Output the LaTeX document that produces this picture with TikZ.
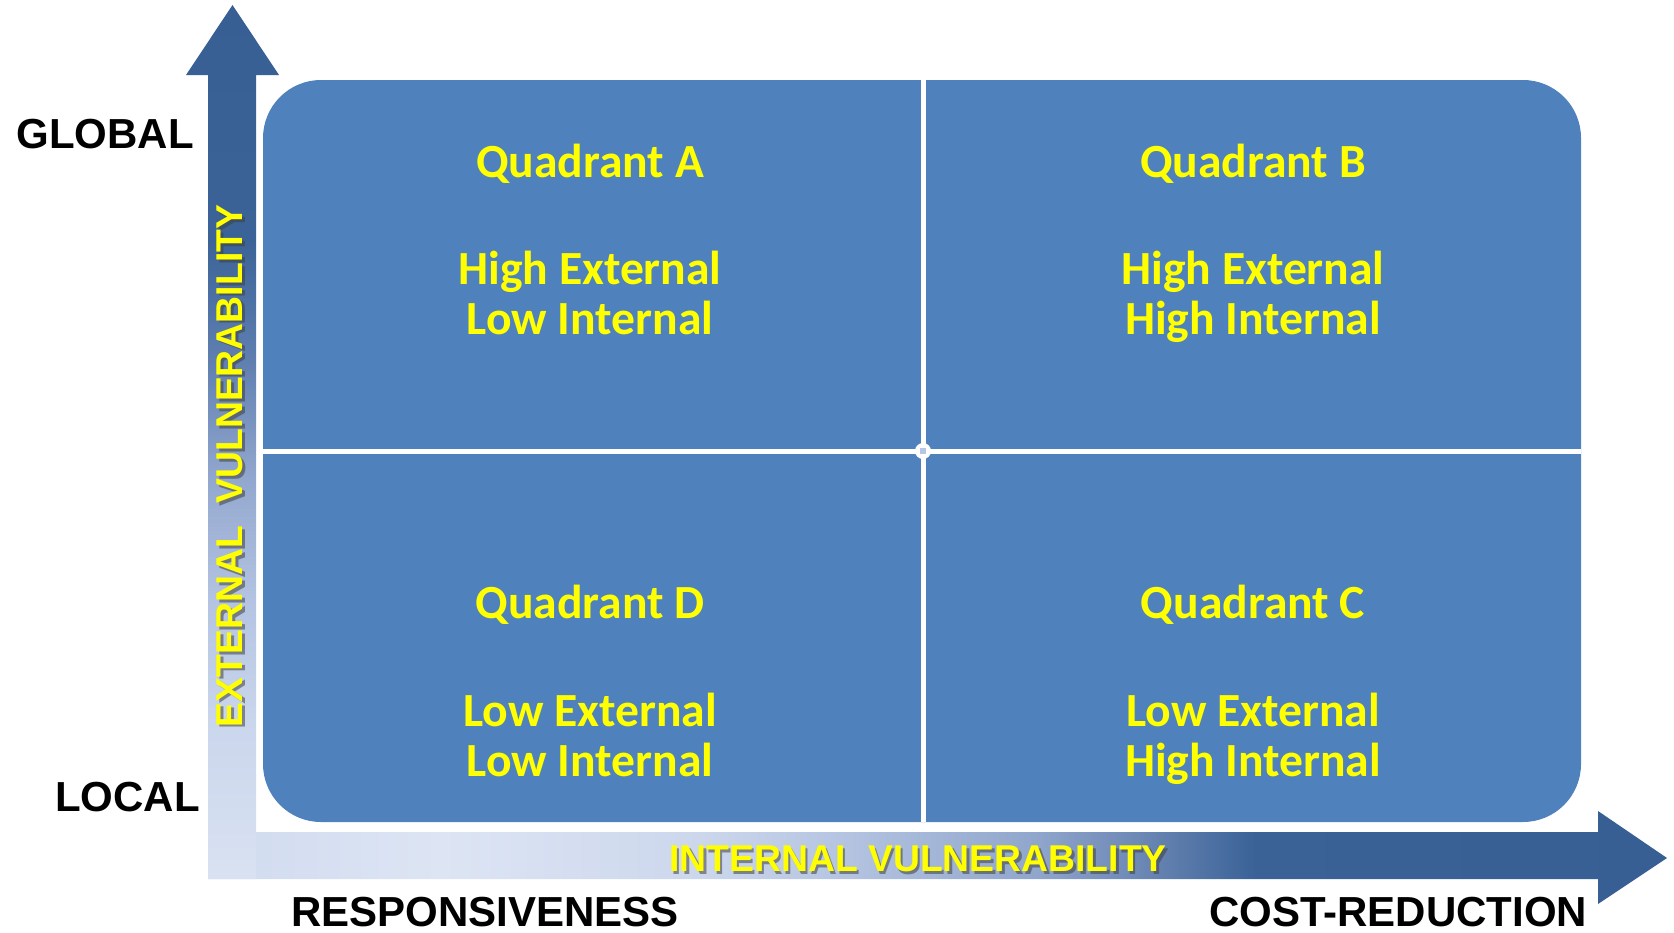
\documentclass[tikz,border=0pt]{standalone}
\usepackage{fontspec}
\usepackage{tikz}
\setmainfont{Liberation Sans}
\newfontfamily\quadfont{Carlito}

\definecolor{quadblue}{HTML}{4F81BD}
\definecolor{arrowdark}{HTML}{375F93}
\definecolor{labelyellow}{HTML}{FFFF00}
\definecolor{hubgray}{HTML}{B4C6E3}
% colours of the vertical arrow, bottom to top
\definecolor{ev1}{HTML}{D9E2F2}
\definecolor{ev2}{HTML}{CAD6EC}
\definecolor{ev3}{HTML}{B3C3E1}
\definecolor{ev4}{HTML}{93A8CF}
\definecolor{ev5}{HTML}{5F7FB0}
\definecolor{ev6}{HTML}{3B6397}
% colours of the horizontal arrow, left to right
\definecolor{iv1}{HTML}{CFDAEE}
\definecolor{iv2}{HTML}{D3DDF0}
\definecolor{iv3}{HTML}{DDE5F4}
\definecolor{iv4}{HTML}{CCD7EC}
\definecolor{iv5}{HTML}{B3C3E0}
\definecolor{iv6}{HTML}{8FA5CB}
\definecolor{iv7}{HTML}{6C88B5}
\definecolor{iv8}{HTML}{3A6297}

\pgfdeclareverticalshading{extshade}{100bp}{color(0bp)=(ev1); color(25bp)=(ev1); color(34bp)=(ev2); color(41bp)=(ev3); color(47.8bp)=(ev4); color(54.7bp)=(ev5); color(61.6bp)=(ev6); color(75bp)=(arrowdark); color(100bp)=(arrowdark)}
\pgfdeclarehorizontalshading{intshade}{100bp}{color(0bp)=(iv1); color(25bp)=(iv1); color(26.8bp)=(iv2); color(33bp)=(iv3); color(41.9bp)=(iv4); color(47bp)=(iv5); color(53.5bp)=(iv6); color(56.9bp)=(iv7); color(60.9bp)=(iv8); color(75bp)=(arrowdark); color(100bp)=(arrowdark)}

\tikzset{
  axislabel/.style={font=\bfseries\fontsize{31.5}{36}\selectfont, text=black, inner sep=0pt},
  vlabel/.style={font=\bfseries\fontsize{28}{32}\selectfont, text=labelyellow, inner sep=0pt},
  vshadow/.style={vlabel, text=black!75, opacity=0.55},
  qtitle/.style={font=\quadfont\bfseries\fontsize{35.7}{37.5}\selectfont, text=labelyellow, anchor=base, inner sep=0pt},
  qbody/.style={qtitle, align=center},
  divider/.style={draw=white, line width=3.75pt}
}

\begin{document}
\begin{tikzpicture}[x=0.75pt,y=0.75pt,yscale=-1,xscale=1]
    \useasboundingbox (0,0) rectangle (1674,932);

    %Shape: Right Arrow (internal vulnerability)
    \shade[shading=intshade] (208,832) -- (1598,832) -- (1598,811) -- (1667,858) -- (1598,904) -- (1598,879) -- (208,879) -- cycle;
    %Shape: Up Arrow (external vulnerability)
    \shade[shading=extshade] (208,879) -- (208,75) -- (186,75) -- (232.5,5) -- (279,75) -- (256,75) -- (256,879) -- cycle;

    %Shape: Rounded Rect
    \fill[quadblue, rounded corners=43.5pt] (263,80) rectangle (1581,822);
    %Straight Lines
    \draw[divider] (923,80) -- (923,822);
    \draw[divider] (263,451) -- (1581,451);
    \fill[white] (923,451) circle (8);
    \fill[hubgray] (920,448) rectangle (926,454);

    % Text Node
    \node (glob) [axislabel] at (105,134) {GLOBAL};
    \node (loc) [axislabel] at (127.5,797) {LOCAL};
    \node (resp) [axislabel] at (485,912) {RESPONSIVENESS};
    \node (costred) [axislabel] at (1398,912) {COST-REDUCTION};

    % Text Node
    \node (intvulsh) [vshadow] at (920.5,861.5) {INTERNAL VULNERABILITY};
    \node (intvul) [vlabel] at (918,859) {INTERNAL VULNERABILITY};
    \node (extvulsh) [vshadow, rotate=90] at (232.5,468.5) {EXTERNAL\hspace{0.6em}VULNERABILITY};
    \node (extvul) [vlabel, rotate=90] at (230,466) {EXTERNAL\hspace{0.6em}VULNERABILITY};

    % Text Node (base of the last line)
    \node (qa) [qtitle] at (590,177) {Quadrant A};
    \node (qatext) [qbody] at (590,334) {High External\\Low Internal};
    \node (qb) [qtitle] at (1253,177) {Quadrant B};
    \node (qbtext) [qbody] at (1253,334) {High External\\High Internal};
    \node (qd) [qtitle] at (590,618) {Quadrant D};
    \node (qdtext) [qbody] at (590,776) {Low External\\Low Internal};
    \node (qc) [qtitle] at (1253,618) {Quadrant C};
    \node (qctext) [qbody] at (1253,776) {Low External\\High Internal};
\end{tikzpicture}
\end{document}
